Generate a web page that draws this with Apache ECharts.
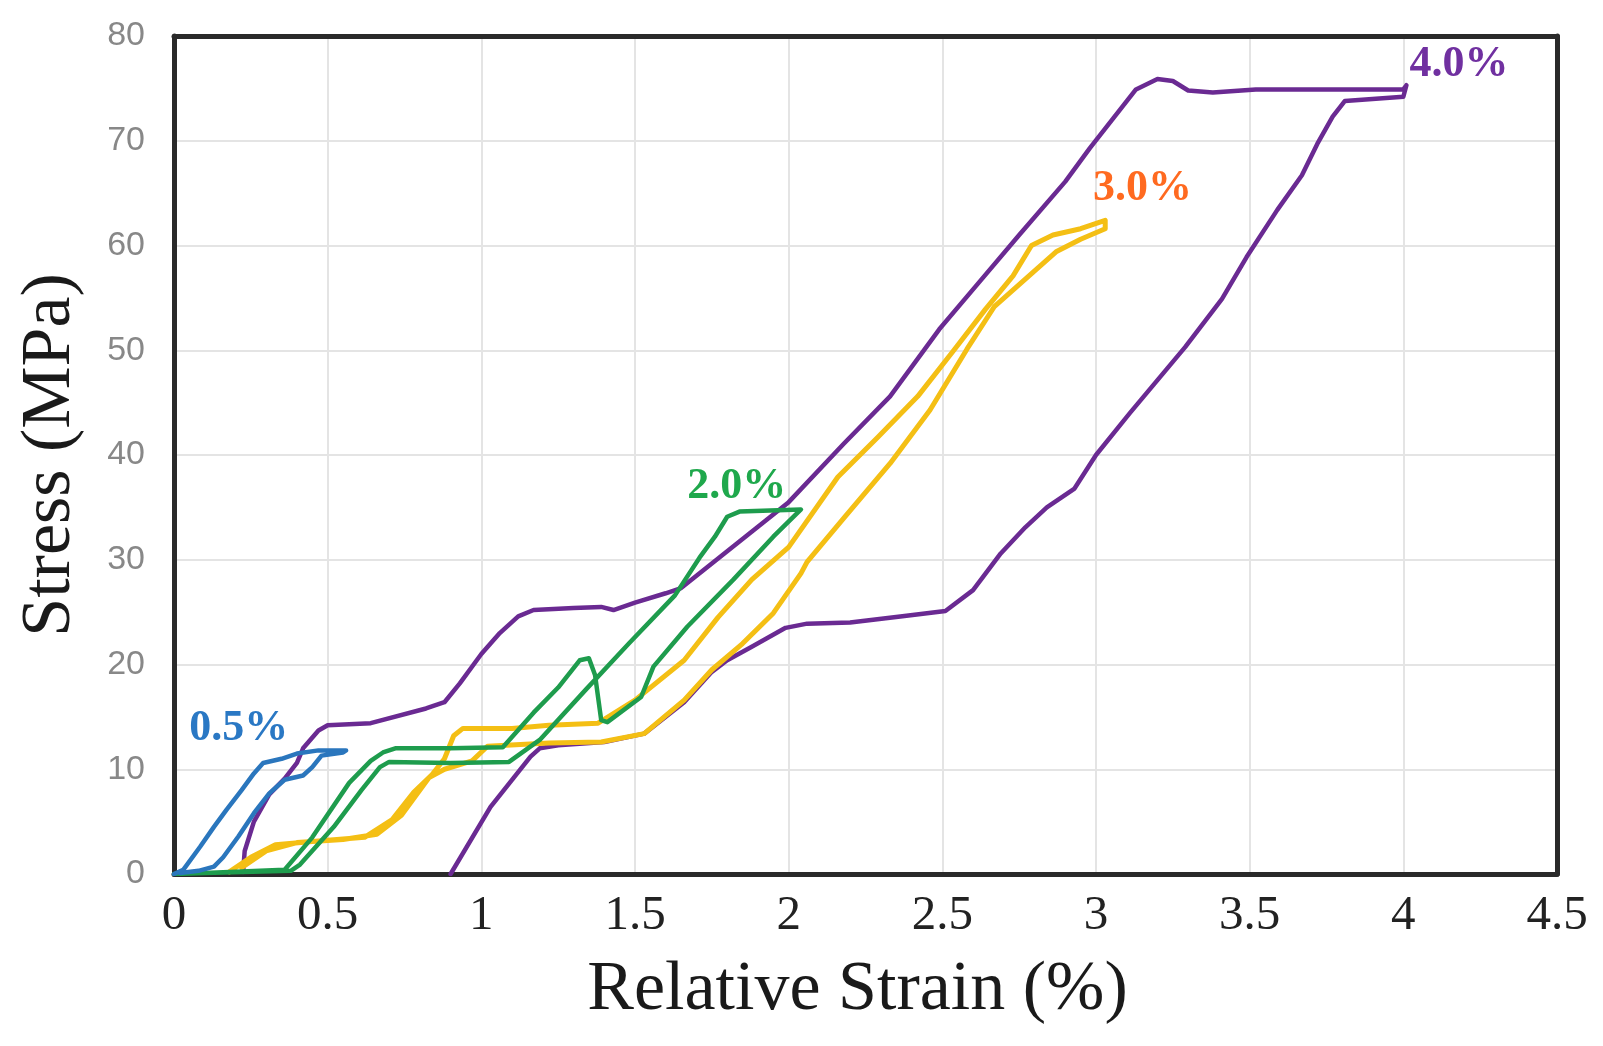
<!DOCTYPE html>
<html><head><meta charset="utf-8">
<script src="https://cdn.jsdelivr.net/npm/echarts@6/dist/echarts.min.js"></script>
<style>html,body{margin:0;padding:0;background:#fff}#c{width:1603px;height:1046px}</style>
</head><body><div id="c"></div>
<script>
// ---- data (strain %, stress MPa) ----
const xTicks = [0, 0.5, 1, 1.5, 2, 2.5, 3, 3.5, 4, 4.5];
const yTicks = [0, 10, 20, 30, 40, 50, 60, 70, 80];
const xTitle = 'Relative Strain (%)';
const yTitle = 'Stress (MPa)';

const curve05 = [
  [0.0,0.0],[0.03,0.4],[0.085,2.6],[0.13,4.5],[0.17,6.1],[0.22,8.0],[0.26,9.6],[0.29,10.6],
  [0.35,11.0],[0.40,11.5],[0.47,11.8],[0.56,11.8],
  [0.55,11.6],[0.48,11.3],[0.45,10.2],[0.42,9.4],[0.36,9.0],[0.31,7.7],[0.26,5.8],[0.21,3.6],
  [0.16,1.6],[0.13,0.7],[0.08,0.3],[0.02,0.1]
];
const curve20 = [
  [0.0,0.0],[0.10,0.1],[0.36,0.4],[0.45,3.5],[0.57,8.7],[0.64,10.8],[0.68,11.6],[0.72,12.0],
  [0.90,12.0],[1.07,12.1],[1.17,15.4],[1.25,17.8],[1.32,20.4],[1.35,20.6],[1.37,19.0],
  [1.39,14.7],[1.41,14.5],[1.52,16.9],[1.56,19.8],[1.67,23.6],[1.82,28.1],[1.95,32.2],[2.04,34.8],
  [1.84,34.6],[1.80,34.1],[1.76,32.2],[1.71,30.2],[1.63,26.6],[1.48,22.0],[1.34,17.6],[1.19,12.8],
  [1.09,10.7],[0.90,10.6],[0.70,10.7],[0.67,10.2],[0.61,8.0],[0.52,4.5],[0.41,0.9],[0.38,0.3],
  [0.10,0.1],[0.0,0.0]
];
const curve30 = [
  [0.18,0.2],[0.25,1.6],[0.33,2.8],[0.45,3.1],[0.62,3.5],[0.71,5.2],[0.78,7.8],[0.84,9.5],
  [0.88,11.0],[0.91,13.2],[0.94,13.9],[1.10,13.9],[1.22,14.2],[1.38,14.4],[1.50,16.6],[1.66,20.4],
  [1.77,24.5],[1.88,28.1],[2.00,31.2],[2.16,37.9],[2.29,41.7],[2.42,45.6],[2.54,50.1],[2.64,53.9],
  [2.73,57.1],[2.79,60.0],[2.86,61.0],[2.95,61.6],[3.03,62.4],
  [3.03,61.6],[2.95,60.6],[2.87,59.4],[2.77,56.8],[2.67,54.2],[2.58,50.1],[2.46,44.3],[2.33,39.2],
  [2.18,34.0],[2.06,29.8],[2.04,28.7],[1.95,24.9],[1.85,22.0],[1.75,19.5],[1.66,16.6],[1.53,13.4],
  [1.39,12.6],[1.22,12.5],[1.02,12.2],[0.97,10.8],[0.88,10.0],[0.83,9.2],[0.74,5.6],[0.66,3.8],
  [0.55,3.3],[0.40,3.0],[0.30,2.2],[0.22,0.6]
];
const curve40 = [
  [0.225,0.2],[0.23,2.2],[0.26,5.0],[0.31,7.6],[0.36,9.1],[0.40,10.6],[0.42,12.0],[0.47,13.7],
  [0.50,14.2],[0.64,14.4],
  [0.82,15.8],[0.88,16.4],[0.93,18.2],[1.00,21.0],[1.06,23.0],[1.12,24.6],[1.17,25.2],[1.30,25.4],
  [1.39,25.5],[1.43,25.2],[1.50,25.9],[1.60,26.8],[1.65,27.3],[2.00,35.5],[2.18,41.1],[2.33,45.6],
  [2.49,52.0],[2.62,56.5],[2.75,61.0],[2.90,66.1],[2.98,69.3],[3.13,74.9],[3.20,75.9],[3.25,75.7],
  [3.30,74.8],[3.38,74.6],[3.52,74.9],[4.00,74.9],[4.01,75.3],
  [4.00,74.2],[3.81,73.8],[3.77,72.3],[3.72,69.7],[3.67,66.7],[3.59,63.4],[3.49,58.9],[3.41,54.9],
  [3.29,50.3],[3.11,44.0],[3.00,40.0],[2.93,36.8],[2.84,35.0],[2.77,33.1],[2.69,30.6],[2.60,27.1],
  [2.51,25.1],[2.37,24.6],[2.20,24.0],[2.06,23.9],[1.99,23.5],[1.88,21.7],[1.80,20.4],[1.75,19.3],
  [1.66,16.4],[1.53,13.4],[1.40,12.6],[1.25,12.3],[1.19,12.0],[1.16,11.2],[1.03,6.4],[0.90,0.0]
];
const labelNames = ['0.5%', '2.0%', '3.0%', '4.0%'];
const labelPoints = [[0.05,13.9],[1.67,37.0],[2.99,65.4],[4.02,77.3]];

// ---- styling ----
const cPurple = '#6A2A92', cYellow = '#F4BF14', cGreen = '#1E9C4D', cBlue = '#2A76BD';
const labelColors = ['#2A78C4', '#1FA84C', '#FF6A20', '#7030A0'];
const serif = '"Liberation Serif","Times New Roman",serif';
const frame = {show: true, onZero: false, lineStyle: {color: '#2a2a2a', width: 5}};

const chart = echarts.init(document.getElementById('c'), null, {renderer: 'canvas'});
function lineSeries(data, color, w) {
  return {type: 'line', data: data, showSymbol: false, symbol: 'none', smooth: false,
    lineStyle: {color: color, width: w, join: 'round', cap: 'round'}, silent: true};
}
const xRange = {type: 'value', min: xTicks[0], max: xTicks[xTicks.length - 1], interval: xTicks[1] - xTicks[0]};
const yRange = {type: 'value', min: yTicks[0], max: yTicks[yTicks.length - 1], interval: yTicks[1] - yTicks[0]};
chart.setOption({
  animation: false,
  backgroundColor: '#fff',
  grid: {left: 174, top: 36, width: 1383, height: 838, show: false, containLabel: false},
  xAxis: [Object.assign({}, xRange, {
    position: 'bottom',
    name: xTitle, nameLocation: 'middle', nameGap: 82,
    nameTextStyle: {fontFamily: serif, fontSize: 70, color: '#1a1a1a', padding: [0, 16, 0, 0]},
    axisLine: frame, axisTick: {show: false},
    axisLabel: {fontFamily: serif, fontSize: 49, color: '#222', margin: 18},
    splitLine: {show: true, lineStyle: {color: '#e4e4e4', width: 2}}
  }), Object.assign({}, xRange, {
    position: 'top', axisLine: frame, axisTick: {show: false}, axisLabel: {show: false}, splitLine: {show: false}
  })],
  yAxis: [Object.assign({}, yRange, {
    position: 'left',
    name: yTitle, nameLocation: 'middle', nameGap: 88,
    nameTextStyle: {fontFamily: serif, fontSize: 70, color: '#1a1a1a'},
    axisLine: frame, axisTick: {show: false},
    axisLabel: {fontFamily: '"Liberation Sans", Arial, sans-serif', fontSize: 34, color: '#888', margin: 29},
    splitLine: {show: true, lineStyle: {color: '#e4e4e4', width: 2}}
  }), Object.assign({}, yRange, {
    position: 'right', axisLine: frame, axisTick: {show: false}, axisLabel: {show: false}, splitLine: {show: false}
  })],
  series: [
    lineSeries(curve40, cPurple, 4.5),
    lineSeries(curve30, cYellow, 5),
    lineSeries(curve20, cGreen, 4.5),
    lineSeries(curve05, cBlue, 4.5),
    {type: 'scatter', symbolSize: 0, silent: true, itemStyle: {opacity: 1},
     data: labelPoints.map((p, i) => ({value: p, name: labelNames[i],
       label: {show: true, formatter: labelNames[i], position: 'inside', align: 'left', verticalAlign: 'middle',
               fontFamily: serif, fontWeight: 'bold', fontSize: 44, color: labelColors[i], opacity: 1}}))}
  ]
});
</script></body></html>
